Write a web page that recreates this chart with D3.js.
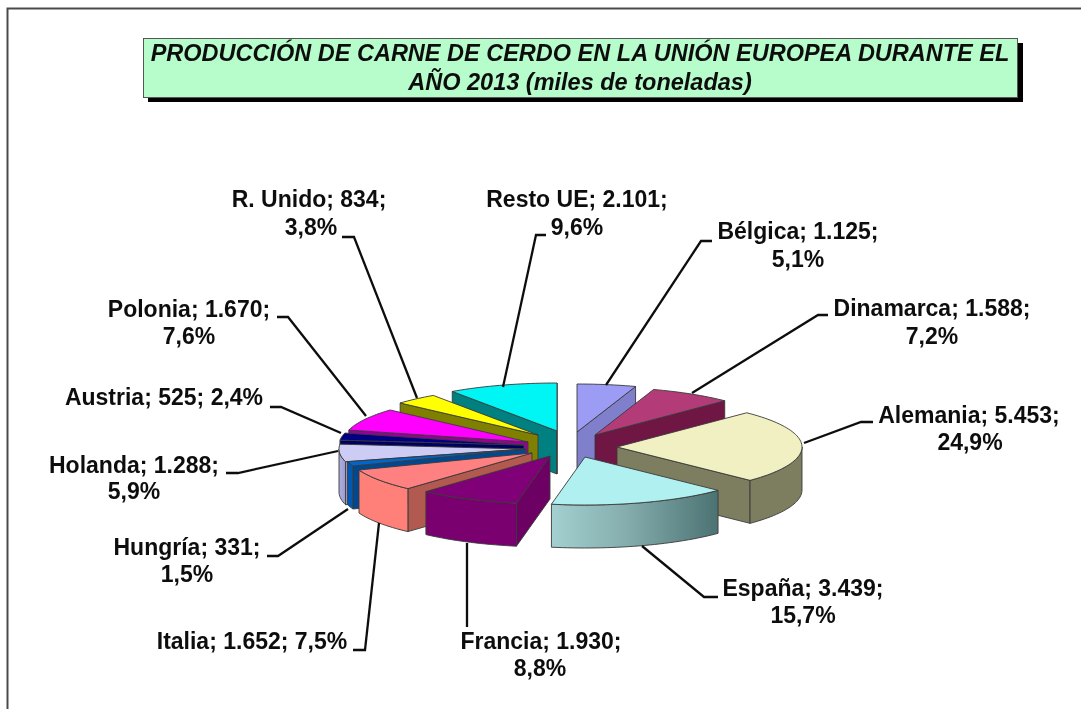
<!DOCTYPE html>
<html><head><meta charset="utf-8">
<script src="https://cdn.jsdelivr.net/npm/d3@7"></script>
<style>html,body{margin:0;padding:0;background:#fff}svg{display:block}</style>
</head><body><div id="chart"></div>
<script>
const titleLines = ["PRODUCCIÓN DE CARNE DE CERDO EN LA UNIÓN EUROPEA DURANTE EL", "AÑO 2013 (miles de toneladas)"];
const countries = ["Bélgica","Dinamarca","Alemania","España","Francia","Italia","Hungría","Holanda","Austria","Polonia","R. Unido","Resto UE"];
const tons = [1125,1588,5453,3439,1930,1652,331,1288,525,1670,834,2101];
const percents = [5.1,7.2,24.9,15.7,8.8,7.5,1.5,5.9,2.4,7.6,3.8,9.6];

// styling / layout
const topColors  = ["#9c9cf5","#b33b78","#f0f0c2","#b0f0f0","#800078","#ff8080","#0066cc","#ccccf5","#000080","#ff00ff","#ffff00","#00f5f5"];
const sideColors = ["#7f7fcc","#701245","#7d7d60","url(#spainGrad)","#7a0070","#ff8078","#0058b0","url(#holGrad)","#000060","#990099","#808000","#008080"];
const cutColors  = ["#7f7fcc","#701245","#7d7d60","#5a8080","#6c0064","#b25a50","#004a90","#a8a8d8","#000060","#990099","#808000","#008080"];
const apexX = [577,595,617,585,550,532,526,524,524,528,538,557];
const apexY = [432,435,447,457,456,453,449,449,445,442,435,431];
const paintOrder = [11,10,9,8,7,6,5,0,1,2,3,4];
const RX = 185, RY = 48, DEPTH = 43;
const labelLayout = [
  {l1:[798,232],l2:[798,260],lead:[[712,241],[701,241],[606,385]]},
  {l1:[932,309],l2:[932,337],lead:[[828,315],[818,315],[692,393]]},
  {l1:[969,416],l2:[970,443],lead:[[873,422],[861,422],[804,443]]},
  {l1:[803,589],l2:[803,616],lead:[[718,597],[704,597],[642,546]]},
  {l1:[541,642],l2:[540,669],lead:[[467,627],[467,543]]},
  {l1:[252,642],lead:[[353,650],[365,650],[379,523]]},
  {l1:[187,548],l2:[187,575],lead:[[267,556],[278,556],[348,509]]},
  {l1:[134,466],l2:[134,492],lead:[[226,473],[238,473],[338,451]]},
  {l1:[164,398],lead:[[270,407],[281,407],[341,433]]},
  {l1:[189,310],l2:[189,337],lead:[[277,317],[288,317],[366,416]]},
  {l1:[309,200],l2:[311,228],lead:[[342,237],[354,237],[417,398]]},
  {l1:[577,200],l2:[577,228],lead:[[546,235],[536,235],[503,387]]}
];

const W = 1081, H = 709;
const svg = d3.select("#chart").append("svg").attr("width",W).attr("height",H);
const defs = svg.append("defs");
function grad(id, stops){
  const g = defs.append("linearGradient").attr("id",id).attr("x1","0").attr("x2","1").attr("y1","0").attr("y2","0");
  stops.forEach(([o,c])=>g.append("stop").attr("offset",o).attr("stop-color",c));
}
grad("spainGrad",[[0,"#a3d0d0"],[0.45,"#85adad"],[1,"#4c7272"]]);
grad("holGrad",[[0,"#b0b0e4"],[1,"#9a9ad0"]]);
defs.append("filter").attr("id","soft").attr("x","-2%").attr("y","-2%").attr("width","104%").attr("height","104%")
  .append("feGaussianBlur").attr("stdDeviation",0.45);

const root = svg.append("g").attr("filter","url(#soft)");
root.append("path").attr("d",`M7.5 ${H}V8.5H${W}`).attr("fill","none").attr("stroke","#4a4a4a").attr("stroke-width",2);

// title
root.append("rect").attr("x",148).attr("y",43).attr("width",875).attr("height",59).attr("fill","#000");
root.append("rect").attr("x",143.5).attr("y",38.5).attr("width",874).attr("height",59).attr("fill","#b6fdcb").attr("stroke","#555").attr("stroke-width",1);
root.selectAll("text.title").data(titleLines).join("text").attr("class","title")
  .attr("x",580).attr("y",(d,i)=>61+i*29).attr("text-anchor","middle")
  .attr("font-family","'Liberation Sans'").attr("font-weight","bold").attr("font-style","italic")
  .attr("font-size",23.5).attr("fill","#111").text(d=>d);

// pie
const pie = d3.pie().sort(null).value(d=>d.v).startAngle(0).endAngle(2*Math.PI);
const arcs = pie(tons.map((v,i)=>({v,i})));
const line = d3.line();
const pt = (i,a,dz=0)=>[apexX[i]+RX*Math.sin(a), apexY[i]-RY*Math.cos(a)+dz];
const arcPts = (i,a0,a1,dz=0)=>{
  const n = Math.max(2,Math.ceil((a1-a0)/0.03));
  return d3.range(n+1).map(k=>pt(i,a0+(a1-a0)*k/n,dz));
};
const gPie = root.append("g").attr("stroke","#3a3a3a").attr("stroke-width",0.9).attr("stroke-linejoin","round");
paintOrder.forEach(i=>{
  const a = arcs[i], s=a.startAngle, e=a.endAngle, A=[apexX[i],apexY[i]];
  const g = gPie.append("g");
  const radial = (ang)=>{
    const c = pt(i,ang), c2 = pt(i,ang,DEPTH);
    g.append("path").attr("d",line([A,c,c2,[A[0],A[1]+DEPTH]])+"Z").attr("fill",cutColors[i]);
  };
  if(Math.sin(s)<0) radial(s);
  if(Math.sin(e)>0) radial(e);
  const lo=Math.max(s,Math.PI/2), hi=Math.min(e,3*Math.PI/2);
  if(hi>lo){
    const pts = arcPts(i,lo,hi).concat(arcPts(i,lo,hi,DEPTH).reverse());
    g.append("path").attr("d",line(pts)+"Z").attr("fill",sideColors[i]);
  }
  g.append("path").attr("d",line([A,...arcPts(i,s,e)])+"Z").attr("fill",topColors[i]);
});

// labels
const fmt = d3.formatLocale({decimal:",",thousands:".",grouping:[3],currency:["",""]});
const num = fmt.format(",d"), pc = fmt.format(".1f");
const gLab = root.append("g");
labelLayout.forEach((L,i)=>{
  gLab.append("path").attr("d",line(L.lead)).attr("fill","none").attr("stroke","#111").attr("stroke-width",2.3);
  const head=`${countries[i]}; ${num(tons[i])};`, tail=`${pc(percents[i])}%`;
  const lines = L.l2 ? [[head,L.l1],[tail,L.l2]] : [[`${head} ${tail}`,L.l1]];
  lines.forEach(([t,p])=>{
    gLab.append("text").attr("x",p[0]).attr("y",p[1]+7).attr("text-anchor","middle")
      .attr("font-family","'Liberation Sans'").attr("font-weight","bold").attr("font-size",23)
      .attr("fill","#111").text(t);
  });
});
</script></body></html>
